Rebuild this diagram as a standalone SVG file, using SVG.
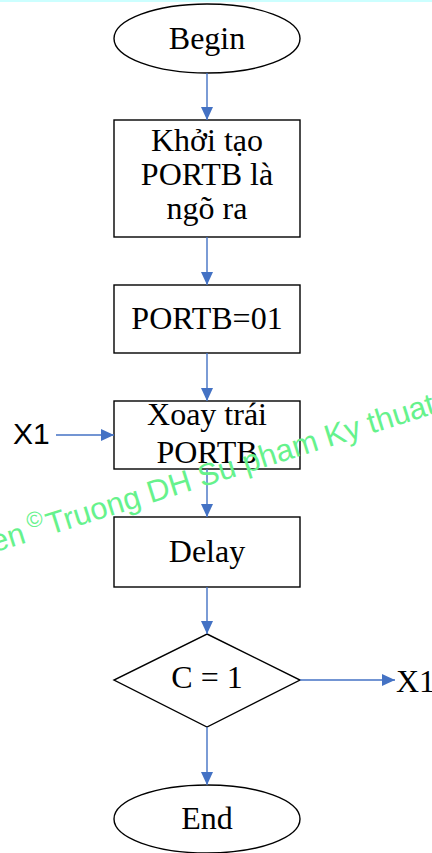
<svg xmlns="http://www.w3.org/2000/svg" width="432" height="853" viewBox="0 0 432 853">
  <defs>
    <marker id="arrow" viewBox="0 0 13 12" refX="13" refY="6" markerWidth="13" markerHeight="12" markerUnits="userSpaceOnUse" orient="auto">
      <path d="M0,0 L13,6 L0,12 Z" fill="#4472c4"/>
    </marker>
    <style>
      .shape { fill: #ffffff; stroke: #000000; stroke-width: 1.4; }
      .label { font-family: "Liberation Serif", "Times New Roman", serif; font-size: 32px; fill: #000000; text-anchor: middle; }
      .edge { stroke: #4472c4; stroke-width: 1.4; fill: none; marker-end: url(#arrow); }
      .sans { font-family: "Liberation Sans", Arial, sans-serif; font-size: 30px; fill: #000000; }
      .mark { font-family: "Liberation Sans", Arial, sans-serif; font-size: 31px; fill: #66f28c; }
    </style>
  </defs>

  <rect x="0" y="0" width="432" height="853" fill="#ffffff"/>
  <rect x="0" y="0" width="432" height="2" fill="#ccffff"/>

  <g id="begin">
    <ellipse class="shape" cx="207" cy="38.5" rx="93" ry="34.5"/>
    <text class="label" x="207" y="49">Begin</text>
  </g>

  <g id="init">
    <rect class="shape" x="114" y="120" width="186" height="117"/>
    <text class="label" x="207" y="151">Khởi tạo</text>
    <text class="label" x="207" y="185">PORTB là</text>
    <text class="label" x="207" y="219">ngõ ra</text>
  </g>

  <g id="set">
    <rect class="shape" x="114" y="285" width="186" height="68"/>
    <text class="label" x="207" y="329">PORTB=01</text>
  </g>

  <g id="rotate">
    <rect class="shape" x="114" y="401" width="186" height="68"/>
    <text class="label" x="207" y="425">Xoay trái</text>
    <text class="label" x="207" y="463">PORTB</text>
  </g>

  <g id="delay">
    <rect class="shape" x="114" y="517" width="186" height="70"/>
    <text class="label" x="207" y="562">Delay</text>
  </g>

  <g id="test">
    <polygon class="shape" points="207,634 300,680 207,727 114,680"/>
    <text class="label" x="207" y="688">C = 1</text>
  </g>

  <g id="end">
    <ellipse class="shape" cx="207" cy="819" rx="93" ry="34"/>
    <text class="label" x="207" y="829">End</text>
  </g>

  <g id="x1-in">
    <text class="sans" x="13" y="444">X1</text>
  </g>

  <g id="x1-out">
    <text class="label" x="396" y="692" style="text-anchor:start">X1</text>
  </g>

  <g id="connectors">
    <line class="edge" x1="207" y1="73" x2="207" y2="120"/>
    <line class="edge" x1="207" y1="237" x2="207" y2="285"/>
    <line class="edge" x1="207" y1="353" x2="207" y2="401"/>
    <line class="edge" x1="207" y1="469" x2="207" y2="517"/>
    <line class="edge" x1="207" y1="587" x2="207" y2="634"/>
    <line class="edge" x1="207" y1="727" x2="207" y2="785"/>
    <line class="edge" x1="56" y1="435" x2="114" y2="435"/>
    <line class="edge" x1="300" y1="680" x2="395" y2="680"/>
  </g>

  <!-- copyright band across the page -->
  <g transform="translate(50 535) rotate(-17.5)">
    <text class="mark" x="-24" y="0" text-anchor="end">en</text>
    <text class="mark" x="-10" y="-12" text-anchor="middle" style="font-size:22px">©</text>
    <text class="mark" x="0" y="0">Truong DH Su pham Ky thuat</text>
  </g>
</svg>
